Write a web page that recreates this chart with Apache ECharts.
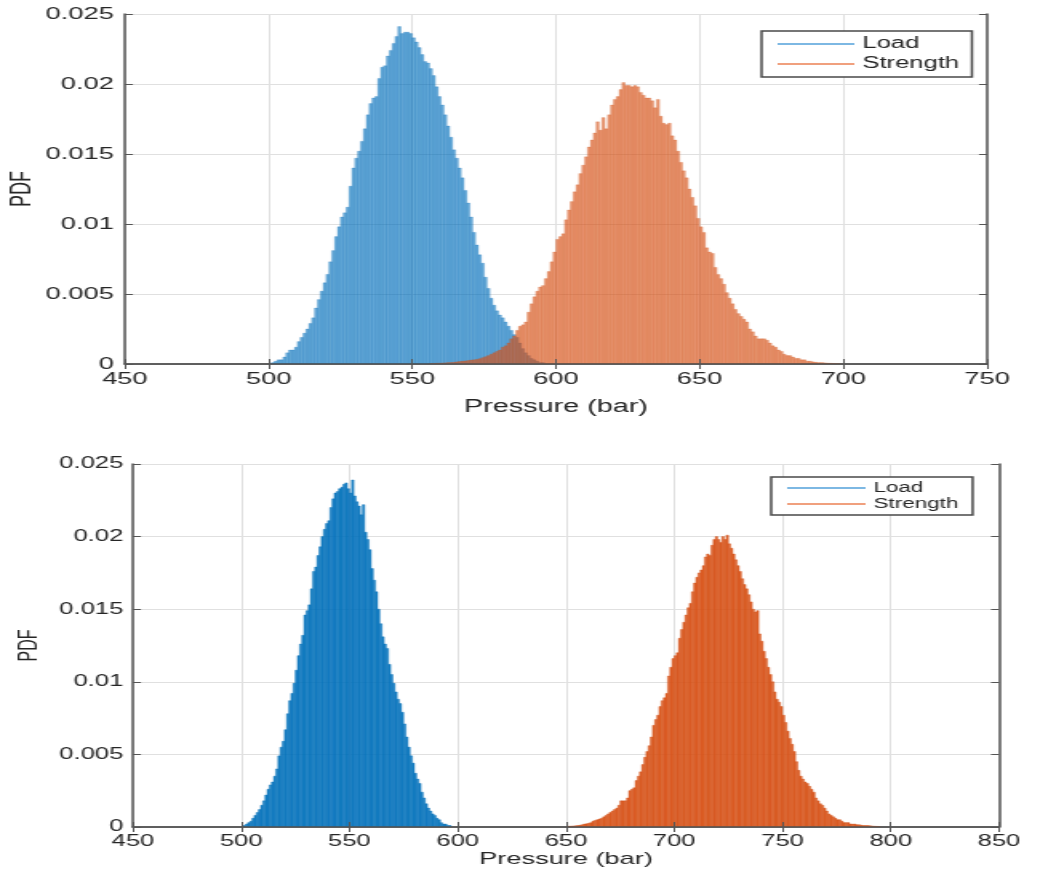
<!DOCTYPE html>
<html>
<head>
<meta charset="utf-8">
<script src="https://cdn.jsdelivr.net/npm/echarts@6/dist/echarts.min.js"></script>
<style>
  html, body { margin: 0; padding: 0; background: #fff; overflow: hidden; }
  /* The figure is laid out narrow and widened horizontally, giving the wide lettering of the exported plot */
  #chart { width: 651px; height: 874px; transform: scaleX(1.6); transform-origin: 0 0; }
</style>
</head>
<body>
<div id="chart"></div>
<script>
// Histogram bin width (bar) and the left edge of the first bin of each series
const BIN_WIDTH = 1;
const LOAD_TOP_START = 501;
const STRENGTH_TOP_START = 556;
const LOAD_BOTTOM_START = 501;
const STRENGTH_BOTTOM_START = 651;

// Upper panel: normalised histogram heights (PDF)
const loadTopPdf = [
  0.0001,0.0002,0.0003,0.0003,0.0005,0.0008,0.0010,0.0010,0.0012,0.0016,
  0.0019,0.0022,0.0025,0.0029,0.0033,0.0040,0.0046,0.0052,0.0058,0.0064,
  0.0073,0.0081,0.0091,0.0098,0.0105,0.0108,0.0112,0.0127,0.0140,0.0147,
  0.0152,0.0159,0.0168,0.0178,0.0186,0.0190,0.0191,0.0204,0.0212,0.0213,
  0.0220,0.0224,0.0229,0.0234,0.0241,0.0236,0.0237,0.0237,0.0236,0.0233,
  0.0230,0.0226,0.0221,0.0216,0.0215,0.0211,0.0206,0.0198,0.0191,0.0185,
  0.0178,0.0170,0.0162,0.0153,0.0147,0.0140,0.0133,0.0124,0.0115,0.0105,
  0.0094,0.0085,0.0078,0.0072,0.0062,0.0054,0.0047,0.0042,0.0038,0.0035,
  0.0033,0.0030,0.0027,0.0024,0.0021,0.0019,0.0015,0.0011,0.0008,0.0006,
  0.0004,0.0003,0.0002,0.0001,0.0001
];
const strengthTopPdf = [
  0.00003,0.00004,0.00005,0.00006,0.00007,0.00008,0.0001,0.0001,0.00012,0.00015,
  0.00018,0.0002,0.00022,0.00025,0.00028,0.0003,0.00033,0.00038,0.00045,0.00052,
  0.0006,0.0007,0.0008,0.0009,0.0010,0.0012,0.0013,0.0015,0.0018,0.0020,
  0.0024,0.0027,0.0028,0.0030,0.0037,0.0043,0.0048,0.0052,0.0055,0.0056,
  0.0061,0.0066,0.0073,0.0080,0.0089,0.0091,0.0093,0.0103,0.0110,0.0116,
  0.0123,0.0128,0.0136,0.0142,0.0148,0.0155,0.0160,0.0165,0.0173,0.0167,
  0.0176,0.0168,0.0178,0.0185,0.0189,0.0191,0.0196,0.0201,0.0199,0.0199,
  0.0198,0.0199,0.0198,0.0194,0.0192,0.0190,0.0190,0.0188,0.0183,0.0189,
  0.0177,0.0172,0.0171,0.0172,0.0163,0.0160,0.0152,0.0144,0.0138,0.0133,
  0.0125,0.0119,0.0113,0.0104,0.0098,0.0094,0.0083,0.0080,0.0079,0.0069,
  0.0064,0.0061,0.0057,0.0051,0.0047,0.0043,0.0039,0.0036,0.0034,0.0032,
  0.0030,0.0025,0.0023,0.0020,0.0018,0.0018,0.0018,0.0017,0.0015,0.0013,
  0.0012,0.0010,0.0009,0.0007,0.0006,0.0006,0.0005,0.0004,0.0004,0.0003,
  0.0003,0.0002,0.0002,0.00015,0.00012,0.0001,0.0001,0.00008,0.00006,0.00005,
  0.00004,0.00003,0.00002
];

// Lower panel: normalised histogram heights (PDF)
const loadBottomPdf = [
  0.0001,0.0002,0.0003,0.0004,0.0006,0.0008,0.0010,0.0012,0.0015,0.0018,
  0.0022,0.0026,0.0029,0.0031,0.0035,0.0040,0.0049,0.0055,0.0059,0.0067,
  0.0078,0.0087,0.0092,0.0099,0.0108,0.0118,0.0126,0.0132,0.0146,0.0149,
  0.0153,0.0164,0.0176,0.0179,0.0187,0.0193,0.0200,0.0205,0.0209,0.0211,
  0.0220,0.0226,0.0230,0.0231,0.0233,0.0234,0.0236,0.0237,0.0233,0.0230,
  0.0239,0.0228,0.0224,0.0221,0.0215,0.0222,0.0203,0.0198,0.0191,0.0178,
  0.0170,0.0162,0.0150,0.0140,0.0131,0.0126,0.0123,0.0112,0.0105,0.0099,
  0.0093,0.0088,0.0085,0.0079,0.0071,0.0062,0.0055,0.0049,0.0044,0.0037,
  0.0033,0.0030,0.0024,0.0020,0.0016,0.0013,0.0011,0.0009,0.0008,0.0006,
  0.0005,0.0003,0.0002,0.0002,0.0001,0.0001
];
const strengthBottomPdf = [
  0.00005,0.00006,0.00007,0.00008,0.0001,0.00012,0.00015,0.0002,0.00022,0.00025,
  0.0003,0.0004,0.00045,0.0005,0.00055,0.0006,0.0007,0.0008,0.0009,0.0010,
  0.0011,0.0012,0.0013,0.0015,0.0018,0.0018,0.0018,0.0020,0.0025,0.0026,
  0.0027,0.0032,0.0035,0.0038,0.0043,0.0048,0.0052,0.0056,0.0062,0.0070,
  0.0074,0.0077,0.0083,0.0087,0.0089,0.0092,0.0104,0.0110,0.0116,0.0118,
  0.0120,0.0130,0.0136,0.0141,0.0146,0.0151,0.0154,0.0162,0.0168,0.0172,
  0.0175,0.0177,0.0180,0.0186,0.0188,0.0187,0.0194,0.0198,0.0200,0.0198,
  0.0196,0.0200,0.0198,0.0201,0.0195,0.0192,0.0188,0.0184,0.0180,0.0176,
  0.0171,0.0167,0.0164,0.0160,0.0155,0.0150,0.0148,0.0149,0.0133,0.0128,
  0.0121,0.0116,0.0110,0.0105,0.0100,0.0093,0.0088,0.0086,0.0083,0.0077,
  0.0072,0.0066,0.0061,0.0057,0.0052,0.0045,0.0039,0.0035,0.0033,0.0031,
  0.0030,0.0028,0.0026,0.0024,0.0020,0.0018,0.0016,0.0015,0.0013,0.0011,
  0.0009,0.0008,0.0007,0.0006,0.0005,0.0005,0.0004,0.0003,0.0003,0.0003,
  0.0002,0.0002,0.0002,0.00015,0.00015,0.00012,0.0001,0.0001,0.0001,0.00008,
  0.00006,0.00005,0.00004,0.00003
];

// Axis ranges and tick steps
const topX = { min: 450, max: 750, interval: 50 };
const bottomX = { min: 450, max: 850, interval: 50 };
const pdfY = { min: 0, max: 0.025, interval: 0.005 };

const FONT = '"Liberation Sans", Arial, Helvetica, sans-serif';
const INK = '#262626';
const AXIS = '#555555';
const GRIDLINE = '#e0e0e0';

const BLUE_LEGEND = '#7db8e3';
const ORANGE_LEGEND = '#f0a07e';

function toBins(start, values) {
  return values.map((v, i) => [start + i * BIN_WIDTH, v]);
}

function histRender(fill, edge, edgeWidth) {
  return function (params, api) {
    const left = api.value(0);
    const h = api.value(1);
    const p0 = api.coord([left, h]);
    const p1 = api.coord([left + BIN_WIDTH, 0]);
    return {
      type: 'rect',
      shape: { x: p0[0], y: p0[1], width: p1[0] - p0[0], height: p1[1] - p0[1] },
      style: { fill: fill, stroke: edge, lineWidth: edgeWidth }
    };
  };
}

const yFmt = v => (v === 0 ? '0' : String(+v.toFixed(3)));

function mainX(grid, range, fs, nameFs, nameGap) {
  return {
    type: 'value', gridIndex: grid, position: 'bottom', z: 5,
    min: range.min, max: range.max, interval: range.interval,
    axisLine: { show: true, lineStyle: { color: AXIS, width: 1.5 } },
    axisTick: { show: true, inside: true, length: 5, lineStyle: { color: AXIS, width: 1 } },
    axisLabel: { color: INK, fontSize: fs, fontFamily: FONT, margin: 7, showMinLabel: true, showMaxLabel: true },
    splitLine: { show: false },
    name: 'Pressure (bar)', nameLocation: 'middle', nameGap: nameGap, nameMoveOverlap: false,
    nameTextStyle: { color: INK, fontSize: nameFs, fontFamily: FONT }
  };
}
function boxX(grid, range) {
  return {
    type: 'value', gridIndex: grid, position: 'top', z: 0,
    min: range.min, max: range.max, interval: range.interval,
    axisLine: { show: true, lineStyle: { color: AXIS, width: 1.5 } },
    axisTick: { show: true, inside: true, length: 5, lineStyle: { color: AXIS, width: 1 } },
    axisLabel: { show: false },
    splitLine: { show: true, lineStyle: { color: GRIDLINE, width: 1 } }
  };
}
function mainY(grid, fs, nameFs, nameGap, margin) {
  return {
    type: 'value', gridIndex: grid, position: 'left', z: 5,
    min: pdfY.min, max: pdfY.max, interval: pdfY.interval,
    axisLine: { show: true, lineStyle: { color: AXIS, width: 1.5 } },
    axisTick: { show: true, inside: true, length: 5, lineStyle: { color: AXIS, width: 1 } },
    axisLabel: { color: INK, fontSize: fs, fontFamily: FONT, margin: margin, formatter: yFmt },
    splitLine: { show: false },
    name: 'PDF', nameLocation: 'middle', nameGap: nameGap, nameMoveOverlap: false,
    nameTextStyle: { color: INK, fontSize: nameFs, fontFamily: FONT }
  };
}
function boxY(grid) {
  return {
    type: 'value', gridIndex: grid, position: 'right', z: 0,
    min: pdfY.min, max: pdfY.max, interval: pdfY.interval,
    axisLine: { show: true, lineStyle: { color: AXIS, width: 1.5 } },
    axisTick: { show: true, inside: true, length: 5, lineStyle: { color: AXIS, width: 1 } },
    axisLabel: { show: false },
    splitLine: { show: true, lineStyle: { color: GRIDLINE, width: 1 } }
  };
}

function legendBox(left, top, fs, lineW, gapRows, lineH, padding) {
  return {
    orient: 'vertical', left: left, top: top,
    icon: 'rect', itemWidth: lineW, itemHeight: 2, itemGap: gapRows,
    backgroundColor: '#ffffff', borderColor: '#4a4a4a', borderWidth: 1.5, borderRadius: 0,
    padding: padding,
    selectedMode: false,
    textStyle: { color: INK, fontSize: fs, fontFamily: FONT, lineHeight: lineH },
    data: [
      { name: 'Load', itemStyle: { color: BLUE_LEGEND } },
      { name: 'Strength', itemStyle: { color: ORANGE_LEGEND } }
    ]
  };
}

const chart = echarts.init(document.getElementById('chart'), null, { renderer: 'canvas', width: 651, height: 874 });

chart.setOption({
  animation: false,
  backgroundColor: '#ffffff',
  grid: [
    { left: 78.1, top: 14, width: 538.8, height: 350, outerBoundsMode: 'none', containLabel: false },
    { left: 83.1, top: 464, width: 541.3, height: 363, outerBoundsMode: 'none', containLabel: false }
  ],
  xAxis: [mainX(0, topX, 17, 18, 34), boxX(0, topX), mainX(1, bottomX, 16, 17, 24), boxX(1, bottomX)],
  yAxis: [mainY(0, 17, 18, 55, 7), boxY(0), mainY(1, 16, 16, 57, 6), boxY(1)],
  legend: [
    legendBox(476, 31, 16, 48, 4, 16, [5, 8, 5, 10]),
    legendBox(482, 477, 14, 49, 2, 13, [4, 9, 4, 10])
  ],
  series: [
    {
      type: 'custom', name: 'Load', xAxisIndex: 0, yAxisIndex: 0, z: 2, clip: true,
      itemStyle: { color: BLUE_LEGEND },
      renderItem: histRender('rgba(0,114,189,0.58)', 'rgba(0,105,180,0.75)', 0.3),
      encode: { x: 0, y: 1 },
      data: toBins(LOAD_TOP_START, loadTopPdf)
    },
    {
      type: 'custom', name: 'Strength', xAxisIndex: 0, yAxisIndex: 0, z: 3, clip: true,
      itemStyle: { color: ORANGE_LEGEND },
      renderItem: histRender('rgba(217,83,25,0.6)', 'rgba(210,80,22,0.75)', 0.3),
      encode: { x: 0, y: 1 },
      data: toBins(STRENGTH_TOP_START, strengthTopPdf)
    },
    {
      type: 'custom', name: 'Load', xAxisIndex: 2, yAxisIndex: 2, z: 2, clip: true,
      itemStyle: { color: BLUE_LEGEND },
      renderItem: histRender('rgba(0,114,189,0.88)', 'rgba(0,110,185,1)', 0.4),
      encode: { x: 0, y: 1 },
      data: toBins(LOAD_BOTTOM_START, loadBottomPdf)
    },
    {
      type: 'custom', name: 'Strength', xAxisIndex: 2, yAxisIndex: 2, z: 3, clip: true,
      itemStyle: { color: ORANGE_LEGEND },
      renderItem: histRender('rgba(217,83,25,0.9)', 'rgba(212,80,22,1)', 0.4),
      encode: { x: 0, y: 1 },
      data: toBins(STRENGTH_BOTTOM_START, strengthBottomPdf)
    }
  ]
});
</script>
</body>
</html>
